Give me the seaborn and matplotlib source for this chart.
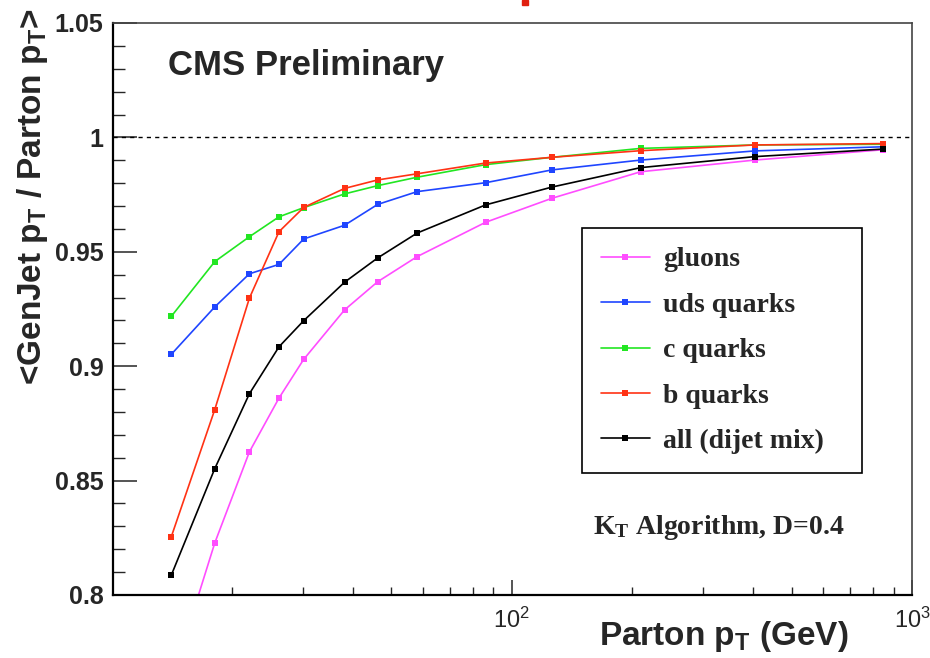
import numpy as np
import pandas as pd
import matplotlib
matplotlib.use("Agg")
import matplotlib.pyplot as plt
import matplotlib.ticker as mticker
from matplotlib.patches import Rectangle
import seaborn as sns

# Parton pT bin centres (GeV)
parton_pt = [14.1, 18.1, 22.1, 26.2, 30.2, 38.2, 46.2, 58.0, 86, 126, 210, 405, 845]

# <GenJet pT / Parton pT> per flavour
gluons = [0.762, 0.8227, 0.8626, 0.8861, 0.9030, 0.9246, 0.9369, 0.9479,
          0.9629, 0.9734, 0.9850, 0.9901, 0.9946]
uds_quarks = [0.9052, 0.9259, 0.9404, 0.9445, 0.9556, 0.9616, 0.9707, 0.9763,
              0.9802, 0.9858, 0.9901, 0.9941, 0.9959]
c_quarks = [0.9218, 0.9457, 0.9566, 0.9653, 0.9693, 0.9753, 0.9789, 0.9826,
            0.9881, 0.9913, 0.9952, 0.9967, 0.9970]
b_quarks = [0.8255, 0.8810, 0.9298, 0.9588, 0.9694, 0.9777, 0.9814, 0.9841,
            0.9888, 0.9913, 0.9942, 0.9967, 0.9973]
all_mix = [0.8087, 0.8552, 0.8880, 0.9085, 0.9199, 0.9367, 0.9473, 0.9582,
           0.9705, 0.9783, 0.9868, 0.9916, 0.9949]

series_names = ["gluons", "uds quarks", "c quarks", "b quarks", "all (dijet mix)"]
series_values = [gluons, uds_quarks, c_quarks, b_quarks, all_mix]
series_colors = ["#ff4dff", "#1f45ff", "#22e622", "#ff3214", "#000000"]

y_ticks = [0.8, 0.85, 0.9, 0.95, 1.0, 1.05]

df = pd.concat(
    [pd.DataFrame({"pt": parton_pt, "response": vals, "flavour": name})
     for name, vals in zip(series_names, series_values)],
    ignore_index=True,
)

sns.set_theme(style="white")
plt.rcParams["font.family"] = ["Liberation Sans", "DejaVu Sans"]
plt.rcParams["mathtext.fontset"] = "custom"
plt.rcParams["mathtext.rm"] = "Liberation Sans:bold"
plt.rcParams["mathtext.bf"] = "Liberation Sans:bold"
plt.rcParams["mathtext.sf"] = "Liberation Serif:bold"

fig = plt.figure(figsize=(9.3, 6.58), dpi=100)
fig.patch.set_facecolor("white")
ax = fig.add_axes([113 / 930, 1 - 595 / 658, 799 / 930, 572 / 658])

sns.lineplot(
    data=df, x="pt", y="response", hue="flavour", hue_order=series_names,
    palette=series_colors, marker="s", markersize=4, markeredgewidth=0,
    linewidth=1.2, ax=ax, legend=True,
)

ax.axhline(1.0, color="black", lw=1.0, ls=(0, (3, 3)), zorder=1)

ax.set_xscale("log")
ax.set_xlim(10.08, 1000)
ax.set_ylim(y_ticks[0], y_ticks[-1])
ax.yaxis.set_major_locator(mticker.FixedLocator(y_ticks))
ax.yaxis.set_minor_locator(mticker.MultipleLocator(0.01))
ax.yaxis.set_major_formatter(mticker.FuncFormatter(lambda v, p: f"{v:g}"))
ax.set_xlabel("")
ax.set_ylabel("")

for side in ["left", "bottom"]:
    ax.spines[side].set_color("black")
    ax.spines[side].set_linewidth(1.6)
for side in ["top", "right"]:
    ax.spines[side].set_color("#444444")
    ax.spines[side].set_linewidth(1.2)

ax.tick_params(axis="y", which="major", direction="in", length=17, width=1.1,
               left=True, right=False, labelsize=18, pad=7)
ax.tick_params(axis="y", which="minor", direction="in", length=8.5, width=1.0,
               left=True, right=False)
ax.tick_params(axis="x", which="major", direction="in", length=11, width=1.1,
               bottom=True, top=False, labelsize=17, pad=9)
ax.tick_params(axis="x", which="minor", direction="in", length=6, width=1.0,
               bottom=True, top=False)
for lab in ax.get_yticklabels():
    lab.set_fontweight("bold")

handles, labels = ax.get_legend_handles_labels()
leg = ax.legend(
    handles, labels, loc="upper left",
    bbox_to_anchor=(0.587, 0.2238, 0.3505, 0.4178), mode="expand",
    prop={"family": "Liberation Serif", "weight": "bold", "size": 20},
    frameon=True, fancybox=False, edgecolor="black", framealpha=1,
    borderpad=0.68, labelspacing=0.72, handlelength=1.75, handletextpad=0.5,
    borderaxespad=0,
)
leg.get_frame().set_linewidth(1.2)

ax.text((168 - 113) / 799, (595 - 65) / 572, "CMS Preliminary",
        transform=ax.transAxes, fontsize=25, fontweight="bold",
        ha="left", va="center")
ax.text((593 - 113) / 799, (595 - 527) / 572,
        r"$\mathsf{K_T}$ Algorithm, D=0.4", transform=ax.transAxes,
        fontsize=20, fontfamily="Liberation Serif", fontweight="bold",
        ha="left", va="center")

fig.text(33 / 930, 1 - 8 / 658, r"<GenJet p$_\mathrm{T}$ / Parton p$_\mathrm{T}$>",
         rotation=90, ha="center", va="top", fontsize=24, fontweight="bold")
fig.text(848 / 930, 1 - 645 / 658, r"Parton p$_\mathrm{T}$ (GeV)",
         ha="right", va="baseline", fontsize=24, fontweight="bold")

fig.patches.append(Rectangle((522 / 930, 1 - 5 / 658), 6 / 930, 5 / 658,
                             transform=fig.transFigure, color="#e02010"))

fig.savefig("out.png", dpi=100, facecolor="white")
